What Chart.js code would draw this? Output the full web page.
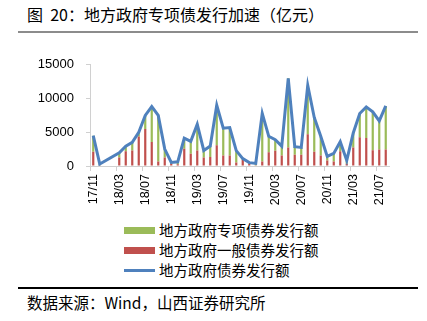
<!DOCTYPE html>
<html>
<head>
<meta charset="utf-8">
<script src="https://cdn.jsdelivr.net/npm/chart.js@4.4.0/dist/chart.umd.min.js"></script>
<style>
  html, body { margin: 0; padding: 0; background: #fff; }
  body { width: 427px; height: 321px; position: relative; overflow: hidden;
         font-family: "Noto Sans CJK SC", "DejaVu Sans", sans-serif; color: #000; }
  #title { position: absolute; left: 27px; top: 3px; font-size: 16px; line-height: 22px; white-space: pre; }
  #rule1 { position: absolute; left: 18px; top: 31px; width: 400px; height: 2px; background: #8c8c8c; }
  #box { position: absolute; left: 0; top: 45px; width: 427px; height: 170px; }
  #legend { position: absolute; left: 124px; top: 220px; font-size: 14.5px; line-height: 20px; }
  #legend div { display: flex; align-items: center; height: 20px; white-space: nowrap; }
  #legend span.sw { display: inline-block; width: 31px; margin-right: 4px; }
  #rule2 { position: absolute; left: 18px; top: 287px; width: 400px; height: 1.5px; background: #000; }
  #source { position: absolute; left: 27px; top: 291px; font-size: 15.5px; line-height: 22px; white-space: nowrap; }
</style>
</head>
<body>
<div id="title">图  20：地方政府专项债发行加速（亿元）</div>
<div id="rule1"></div>
<div id="box"><canvas id="bondChart"></canvas></div>
<div id="legend">
  <div><span class="sw" style="height:7px;background:#9BBB59"></span>地方政府专项债券发行额</div>
  <div><span class="sw" style="height:7px;background:#C0504D"></span>地方政府一般债券发行额</div>
  <div><span class="sw" style="height:3px;background:#4F81BD"></span>地方政府债券发行额</div>
</div>
<div id="rule2"></div>
<div id="source">数据来源：Wind，山西证券研究所</div>

<script>
const months = [
  '17/11', '17/12', '18/01', '18/02', '18/03', '18/04', '18/05', '18/06', '18/07', '18/08', '18/09', '18/10',
  '18/11', '18/12', '19/01', '19/02', '19/03', '19/04', '19/05', '19/06', '19/07', '19/08', '19/09', '19/10',
  '19/11', '19/12', '20/01', '20/02', '20/03', '20/04', '20/05', '20/06', '20/07', '20/08', '20/09', '20/10',
  '20/11', '20/12', '21/01', '21/02', '21/03', '21/04', '21/05', '21/06', '21/07', '21/08'
];

// 一般债券
const generalBonds = [
  2100, 100, null, null, 1250, 2200, 2300, 4380, 5500, 3550, 670, 1250,
  300, 250, 2550, 1830, 2300, 1250, 1350, 3080, 1540, 1540, 530, 900,
  340, 100, 670, 2020, 2260, 1540, 2740, 1680, 1680, 4720, 2120, 1540,
  820, 670, 2170, 340, 2740, 4250, 4150, 2350, 2450, 2450
];

// 专项债券
const specialBonds = [
  2400, 200, null, null, 700, 730, 1200, 620, 2000, 5250, 6830, 1250,
  230, 370, 1580, 1820, 3900, 1050, 1600, 5920, 4060, 4160, 1750, 200,
  160, 280, 7130, 2380, 1640, 1410, 10260, 1180, 1080, 7230, 5080, 2860,
  600, 1200, 1430, 480, 2160, 3540, 4600, 5680, 4230, 6450
];

// 债券发行总额
const totalBonds = [
  4500, 300, null, null, 1950, 2930, 3500, 5000, 7500, 8800, 7500, 2500,
  530, 620, 4130, 3650, 6200, 2300, 2950, 9000, 5600, 5700, 2280, 1100,
  500, 380, 7800, 4400, 3900, 2950, 13000, 2860, 2760, 11950, 7200, 4400,
  1420, 1870, 3600, 820, 4900, 7790, 8750, 8030, 6680, 8900
];

const yTicks = [0, 5000, 10000, 15000];

const ctx = document.getElementById('bondChart').getContext('2d');
new Chart(ctx, {
  type: 'bar',
  data: {
    labels: months,
    datasets: [
      {
        type: 'line',
        label: '地方政府债券发行额',
        data: totalBonds,
        borderColor: '#4F81BD',
        backgroundColor: '#4F81BD',
        borderWidth: 3,
        pointRadius: 0,
        tension: 0,
        spanGaps: true,
        stack: 'total',
        order: 0
      },
      {
        label: '地方政府一般债券发行额',
        data: generalBonds,
        backgroundColor: '#C0504D',
        stack: 'bonds',
        barPercentage: 0.34,
        categoryPercentage: 1,
        order: 1
      },
      {
        label: '地方政府专项债券发行额',
        data: specialBonds,
        backgroundColor: '#9BBB59',
        stack: 'bonds',
        barPercentage: 0.34,
        categoryPercentage: 1,
        order: 1
      }
    ]
  },
  options: {
    responsive: true,
    maintainAspectRatio: false,
    animation: false,
    layout: { padding: { top: 17, right: 38, left: 0, bottom: 0 } },
    plugins: {
      legend: { display: false },
      tooltip: { enabled: false }
    },
    scales: {
      x: {
        stacked: true,
        afterFit: s => { s.height = 49; },
        border: { color: '#d0d0d0', width: 1 },
        grid: {
          offset: true,
          drawOnChartArea: false,
          tickLength: 5,
          color: c => (c.index % 4 === 0 ? '#d0d0d0' : 'rgba(0,0,0,0)')
        },
        ticks: {
          autoSkip: false,
          maxRotation: 90,
          minRotation: 90,
          padding: 3,
          color: '#000',
          font: { family: 'Liberation Sans', size: 12.5 },
          callback: (v, i) => (i % 4 === 0 ? months[i] : '')
        }
      },
      y: {
        stacked: true,
        min: 0,
        max: 15000,
        afterFit: s => { s.width = 90; },
        afterBuildTicks: s => { s.ticks = yTicks.map(v => ({ value: v })); },
        border: { color: '#d0d0d0', width: 1 },
        grid: { drawOnChartArea: false, tickLength: 4, color: '#d0d0d0' },
        ticks: {
          padding: 12,
          color: '#000',
          font: { family: 'Liberation Sans', size: 13 },
          callback: v => String(v)
        }
      }
    }
  }
});
</script>
</body>
</html>
